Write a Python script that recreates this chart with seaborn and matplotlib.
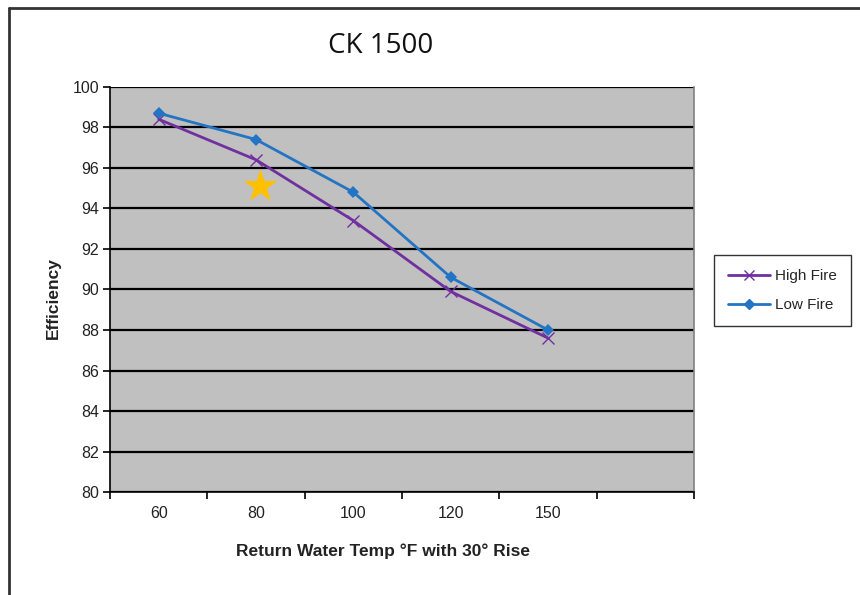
import pandas as pd
import matplotlib.pyplot as plt
import seaborn as sns
from matplotlib.lines import Line2D

# data
temps = ["60", "80", "100", "120", "150"]
high_fire = [98.4, 96.4, 93.4, 89.9, 87.6]
low_fire = [98.7, 97.4, 94.8, 90.6, 88.0]
y_ticks = [80, 82, 84, 86, 88, 90, 92, 94, 96, 98, 100]

# the highlighted point (star), in category units
star_x = [1.04]
star_y = [95.1]

n_slots = 6  # excel-style axis leaves an empty sixth category

df = pd.DataFrame({
    "pos": list(range(len(temps))),
    "High Fire": high_fire,
    "Low Fire": low_fire,
})

sns.set_style("white")
plt.rcParams["font.family"] = ["Liberation Sans", "DejaVu Sans"]

fig = plt.figure(figsize=(8.6, 5.95), dpi=100)
ax = fig.add_axes([0.128, 0.173, 0.679, 0.681])
ax.set_facecolor("#C0C0C0")

colors = {"High Fire": "#7030A0", "Low Fire": "#2474C4"}

sns.lineplot(data=df, x="pos", y="High Fire", color=colors["High Fire"],
             marker="x", markersize=9, markeredgewidth=1.0,
             markeredgecolor=colors["High Fire"], linewidth=2,
             ax=ax, zorder=3)
sns.lineplot(data=df, x="pos", y="Low Fire", color=colors["Low Fire"],
             marker="D", markersize=6.5, markeredgewidth=0, linewidth=2,
             ax=ax, zorder=4)

ax.scatter(star_x, star_y, marker="*", s=650, color="#FFC000", zorder=5,
           linewidths=0)

ax.set_xlim(-0.5, n_slots - 0.5)
ax.set_ylim(80, 100)
ax.set_yticks(y_ticks)
ax.yaxis.grid(True, color="black", linewidth=1.6)
ax.set_axisbelow(True)

ax.set_xticks([i - 0.5 for i in range(n_slots + 1)])
ax.set_xticklabels([])
ax.set_xticks(range(len(temps)), minor=True)
ax.set_xticklabels(temps, minor=True)
ax.tick_params(axis="x", which="major", direction="out", length=5, width=1.2,
               color="black", bottom=True)
ax.tick_params(axis="x", which="minor", length=0, pad=10, labelsize=11.5,
               labelcolor="#222222")
ax.tick_params(axis="y", direction="out", length=5, width=1.2, color="black",
               left=True, labelsize=11.5, labelcolor="#222222", pad=3)

for side in ["left", "bottom"]:
    ax.spines[side].set_color("black")
    ax.spines[side].set_linewidth(1.2)
ax.spines["top"].set_visible(False)
ax.spines["right"].set_color("#808080")
ax.spines["right"].set_linewidth(1.2)

ax.set_xlabel("Return Water Temp °F with 30° Rise", fontsize=12.5,
              fontweight="bold", color="#222222")
ax.xaxis.set_label_coords(0.467, -0.128)
ax.set_ylabel("Efficiency", fontsize=12.5, fontweight="bold", color="#222222")
ax.yaxis.set_label_coords(-0.085, 0.48)

fig.text(0.443, 0.923, "CK 1500", ha="center", va="center", fontsize=20,
         family=["Open Sans", "DejaVu Sans"], color="#111111")

handles = [
    Line2D([], [], color=colors["High Fire"], marker="x", markersize=7,
           linewidth=2),
    Line2D([], [], color=colors["Low Fire"], marker="D", markersize=5,
           linewidth=2),
]
fig.legend(handles, ["High Fire", "Low Fire"], loc="center",
           bbox_to_anchor=(0.9095, 0.5115), fontsize=11, frameon=True,
           fancybox=False, edgecolor="black", handlelength=2.8,
           handletextpad=0.3, borderpad=0.9, labelspacing=1.0,
           borderaxespad=0)

# outer chart frame (only top and left edges show)
fig.add_artist(Line2D([0.0105, 0.0105], [0.0, 0.987], color="#333333",
                      linewidth=2, transform=fig.transFigure))
fig.add_artist(Line2D([0.0105, 1.0], [0.987, 0.987], color="#333333",
                      linewidth=2, transform=fig.transFigure))

fig.savefig("out.png", dpi=100)
